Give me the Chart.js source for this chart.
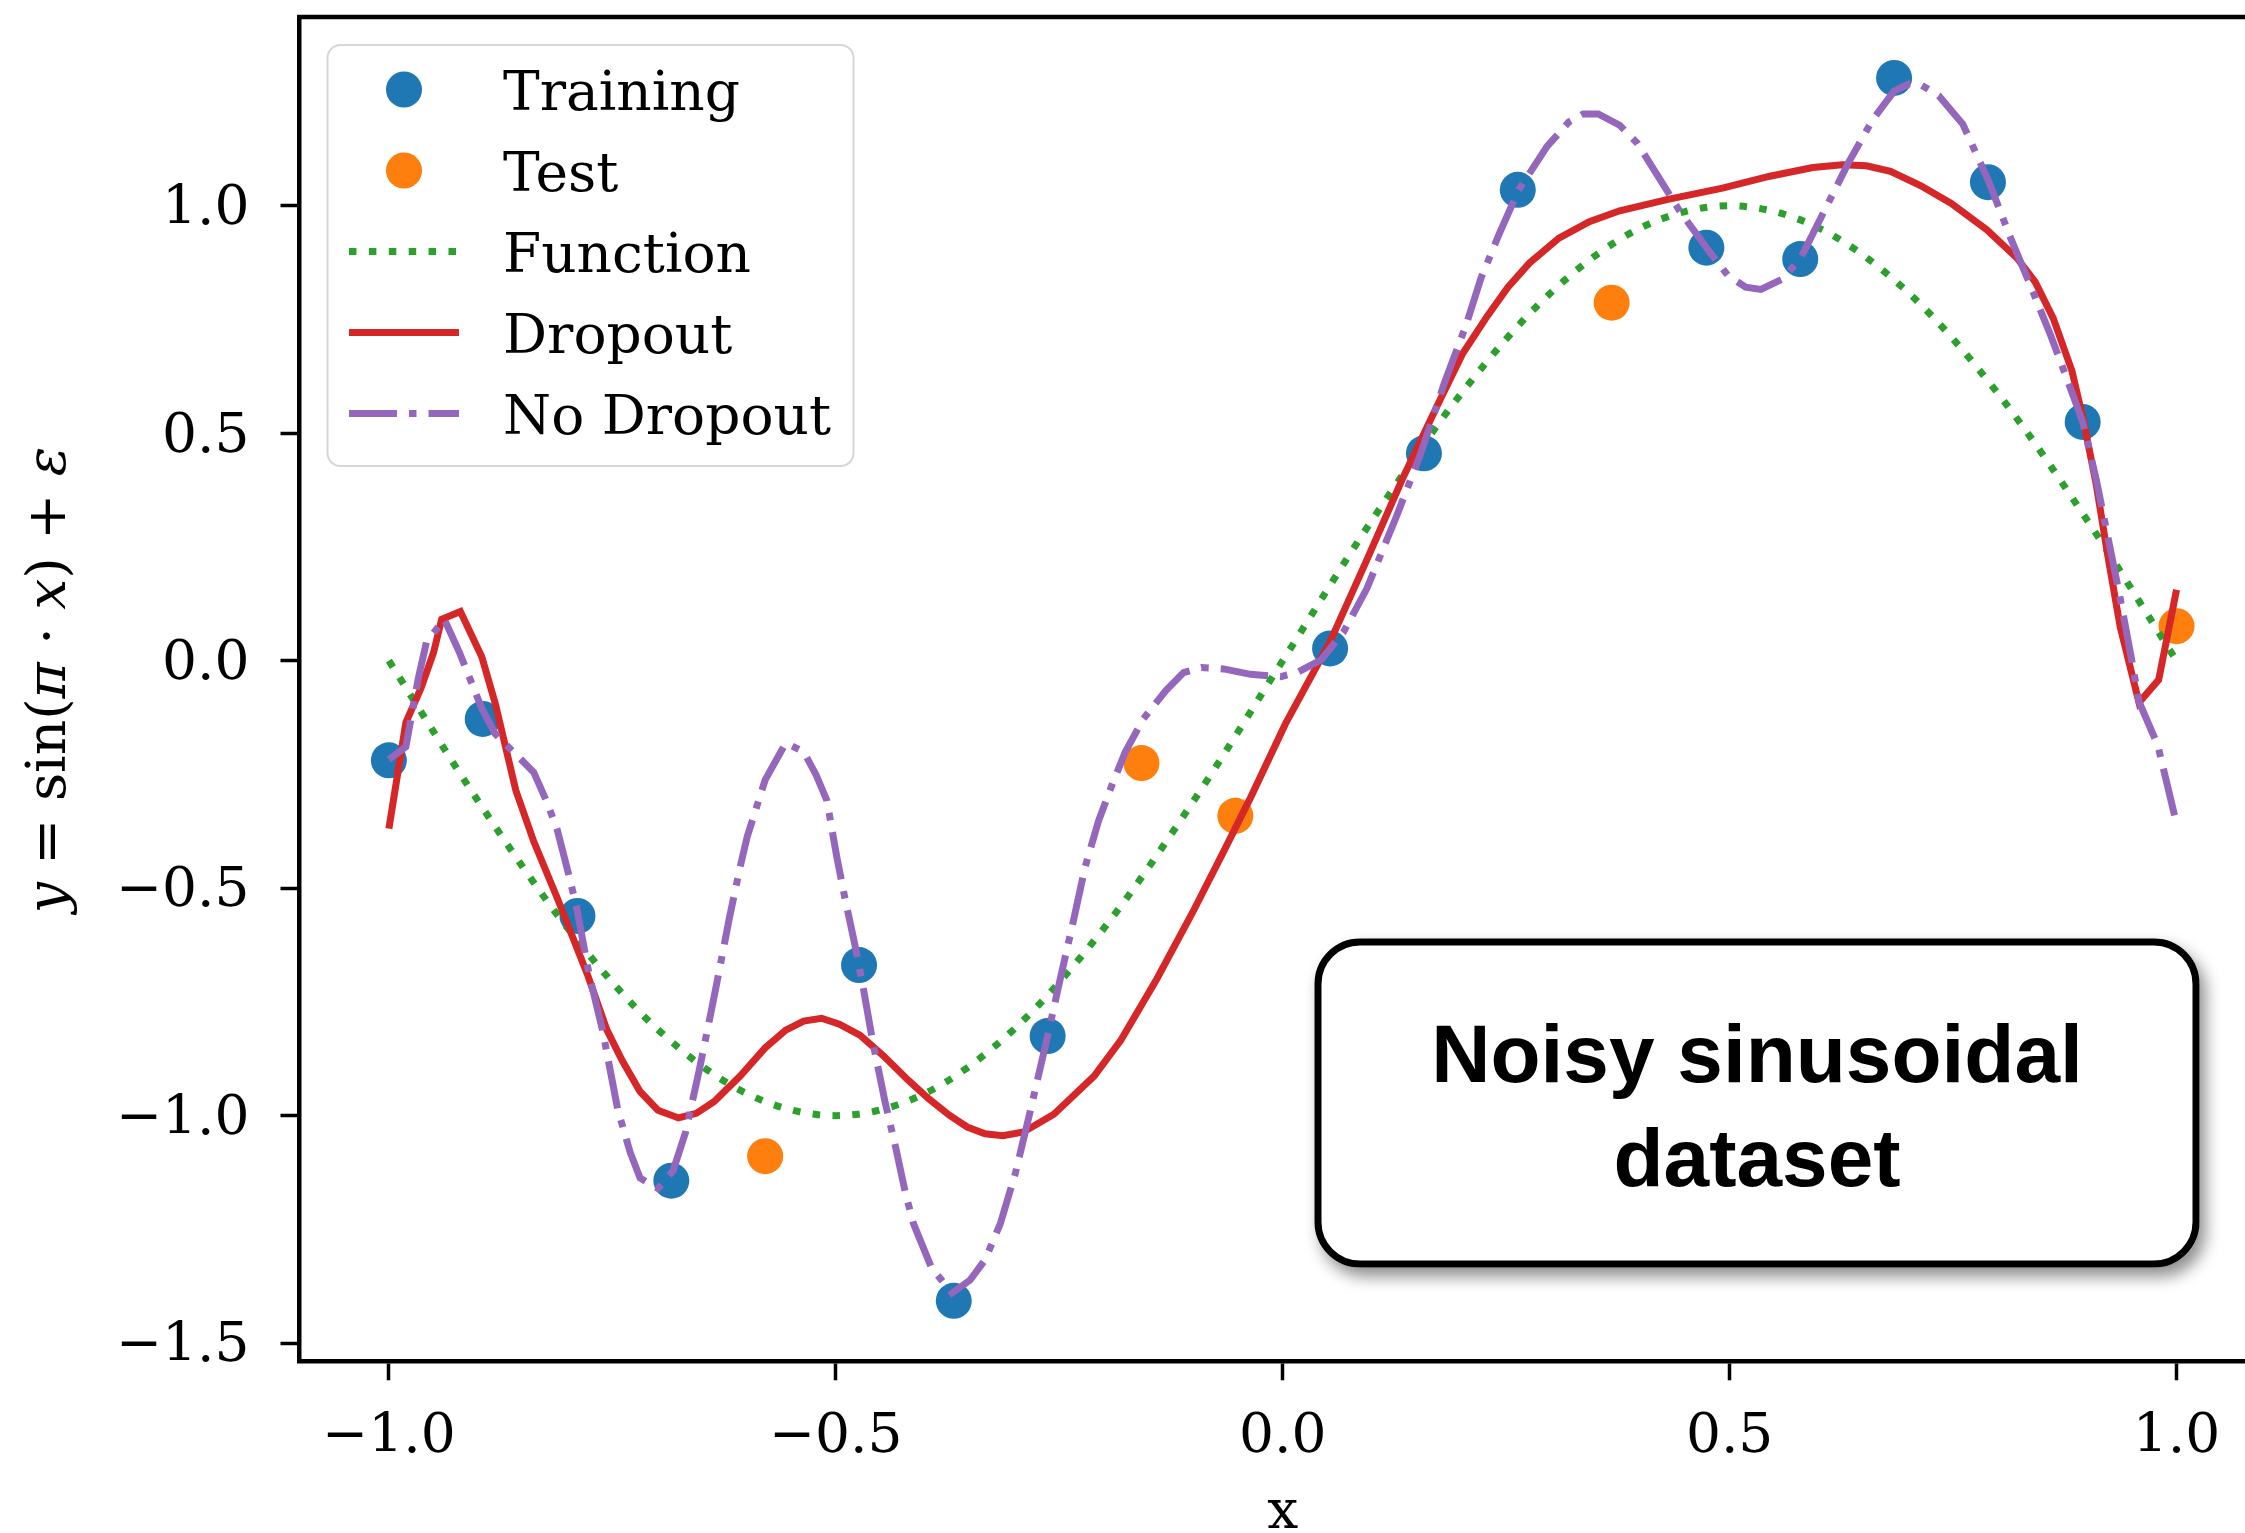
<!DOCTYPE html>
<html>
<head>
<meta charset="utf-8">
<title>Noisy sinusoidal dataset</title>
<script src="https://cdn.jsdelivr.net/npm/chart.js@4.4.1/dist/chart.umd.min.js"></script>
<style>
  html, body { margin: 0; padding: 0; background: #fff; overflow: hidden; }
  canvas { display: block; }
</style>
</head>
<body>
<canvas id="chart" width="2245" height="1533"></canvas>
<script>
// samples
let trainX = [-1.0, -0.895, -0.789, -0.684, -0.474, -0.368, -0.263, 0.053, 0.158, 0.263, 0.474, 0.579, 0.684, 0.789, 0.895];
let trainY = [-0.219, -0.128, -0.561, -1.143, -0.669, -1.407, -0.825, 0.027, 0.456, 1.035, 0.908, 0.883, 1.281, 1.052, 0.525];
let testX = [-0.579, -0.158, -0.053, 0.368, 1.0];
let testY = [-1.089, -0.225, -0.341, 0.787, 0.076];

// underlying function
let funcX = [-1.0, -0.9, -0.8, -0.7, -0.6, -0.5, -0.4, -0.3, -0.2, -0.1, 0.0, 0.1, 0.2, 0.3, 0.4, 0.5, 0.6, 0.7, 0.8, 0.9, 1.0];
let funcY = [0, -0.309, -0.588, -0.809, -0.951, -1.0, -0.951, -0.809, -0.588, -0.309, 0, 0.309, 0.588, 0.809, 0.951, 1.0, 0.951, 0.809, 0.588, 0.309, 0];

// model with dropout
let dropX = [-1.0, -0.981, -0.964, -0.95, -0.941, -0.92, -0.896, -0.881, -0.858, -0.838, -0.812, -0.778, -0.756, -0.739, -0.719, -0.699, -0.676, -0.656, -0.636, -0.607, -0.579, -0.556, -0.536, -0.516, -0.496, -0.473, -0.447, -0.419, -0.396, -0.373, -0.353, -0.333, -0.313, -0.29, -0.256, -0.211, -0.181, -0.141, -0.101, -0.066, -0.036, 0.003, 0.053, 0.094, 0.134, 0.175, 0.201, 0.229, 0.252, 0.276, 0.309, 0.343, 0.377, 0.431, 0.492, 0.545, 0.593, 0.626, 0.653, 0.68, 0.714, 0.748, 0.788, 0.822, 0.842, 0.862, 0.883, 0.896, 0.91, 0.923, 0.937, 0.958, 0.98, 1.0];
let dropY = [-0.369, -0.136, -0.06, 0.018, 0.091, 0.108, 0.008, -0.094, -0.285, -0.397, -0.52, -0.689, -0.812, -0.879, -0.947, -0.988, -1.005, -0.995, -0.969, -0.913, -0.851, -0.812, -0.792, -0.786, -0.799, -0.823, -0.868, -0.922, -0.963, -0.999, -1.025, -1.04, -1.044, -1.036, -0.997, -0.913, -0.834, -0.7, -0.554, -0.419, -0.301, -0.139, 0.042, 0.221, 0.4, 0.569, 0.674, 0.758, 0.821, 0.874, 0.929, 0.965, 0.989, 1.014, 1.039, 1.065, 1.084, 1.09, 1.088, 1.076, 1.044, 1.005, 0.947, 0.884, 0.832, 0.753, 0.637, 0.527, 0.389, 0.232, 0.074, -0.092, -0.042, 0.156];

// model without dropout
let noDropX = [-1.0, -0.981, -0.967, -0.958, -0.938, -0.921, -0.896, -0.881, -0.858, -0.838, -0.824, -0.812, -0.801, -0.79, -0.776, -0.761, -0.744, -0.73, -0.719, -0.699, -0.682, -0.668, -0.653, -0.639, -0.63, -0.619, -0.607, -0.599, -0.579, -0.556, -0.536, -0.522, -0.51, -0.499, -0.49, -0.479, -0.47, -0.459, -0.445, -0.433, -0.422, -0.413, -0.393, -0.37, -0.35, -0.333, -0.316, -0.299, -0.284, -0.263, -0.249, -0.236, -0.221, -0.206, -0.191, -0.176, -0.156, -0.131, -0.111, -0.091, -0.066, -0.036, -0.002, 0.018, 0.043, 0.068, 0.094, 0.127, 0.154, 0.181, 0.205, 0.222, 0.242, 0.264, 0.296, 0.32, 0.336, 0.353, 0.377, 0.397, 0.417, 0.444, 0.474, 0.498, 0.518, 0.535, 0.559, 0.579, 0.606, 0.633, 0.66, 0.684, 0.701, 0.714, 0.734, 0.761, 0.79, 0.815, 0.835, 0.859, 0.879, 0.895, 0.91, 0.923, 0.937, 0.95, 0.958, 0.979, 0.99, 1.0];
let noDropY = [-0.217, -0.189, -0.038, 0.041, 0.091, 0.018, -0.105, -0.161, -0.206, -0.245, -0.307, -0.369, -0.453, -0.542, -0.689, -0.812, -0.986, -1.081, -1.137, -1.16, -1.121, -1.036, -0.902, -0.767, -0.677, -0.565, -0.453, -0.386, -0.262, -0.181, -0.2, -0.251, -0.307, -0.43, -0.52, -0.621, -0.711, -0.834, -0.969, -1.07, -1.171, -1.238, -1.334, -1.39, -1.362, -1.317, -1.238, -1.126, -1.003, -0.825, -0.7, -0.588, -0.453, -0.352, -0.273, -0.2, -0.128, -0.066, -0.026, -0.015, -0.018, -0.03, -0.035, -0.024, 0.002, 0.063, 0.158, 0.316, 0.453, 0.611, 0.737, 0.842, 0.937, 1.035, 1.131, 1.184, 1.202, 1.202, 1.177, 1.137, 1.074, 0.989, 0.908, 0.847, 0.821, 0.816, 0.839, 0.883, 0.989, 1.095, 1.189, 1.252, 1.268, 1.266, 1.242, 1.179, 1.053, 0.926, 0.832, 0.716, 0.611, 0.525, 0.4, 0.274, 0.137, 0.0, -0.09, -0.186, -0.276, -0.358];

let xTicks = [-1.0, -0.5, 0.0, 0.5, 1.0];
let yTicks = [-1.5, -1.0, -0.5, 0.0, 0.5, 1.0];

const FONT = '"DejaVu Serif", serif';

function pairs(xs, ys) {
    return xs.map((x, i) => ({ x: x, y: ys[i] }));
}

function fmt(v) {
    return v.toFixed(1).replace("-", "\u2212");
}

function noPadding(s) {
    s.paddingTop = 0;
    s.paddingBottom = 0;
    s.paddingLeft = 0;
    s.paddingRight = 0;
}

function roundRect(ctx, x, y, w, h, r) {
    ctx.beginPath();
    ctx.moveTo(x + r, y);
    ctx.lineTo(x + w - r, y);
    ctx.arcTo(x + w, y, x + w, y + r, r);
    ctx.lineTo(x + w, y + h - r);
    ctx.arcTo(x + w, y + h, x + w - r, y + h, r);
    ctx.lineTo(x + r, y + h);
    ctx.arcTo(x, y + h, x, y + h - r, r);
    ctx.lineTo(x, y + r);
    ctx.arcTo(x, y, x + r, y, r);
    ctx.closePath();
}

// top spine, axis labels, legend and the text box
const decorations = {
    id: "decorations",
    afterDatasetsDraw(chart) {
        const ctx = chart.ctx;
        const area = chart.chartArea;
        const xs = chart.scales.x;
        ctx.save();

        // top spine
        ctx.strokeStyle = "#000";
        ctx.lineWidth = 4.5;
        ctx.beginPath();
        ctx.moveTo(area.left - 2.25, area.top);
        ctx.lineTo(area.right, area.top);
        ctx.stroke();

        // legend
        roundRect(ctx, 327.5, 45, 526, 421, 13);
        ctx.fillStyle = "rgba(255,255,255,0.8)";
        ctx.fill();
        ctx.strokeStyle = "#d6d6d6";
        ctx.lineWidth = 2;
        ctx.stroke();

        ctx.font = "55px " + FONT;
        ctx.textAlign = "left";
        ctx.textBaseline = "alphabetic";
        chart.data.datasets.forEach((ds, i) => {
            const cy = 89.5 + i * 81;
            if (ds.showLine) {
                ctx.save();
                ctx.strokeStyle = ds.borderColor;
                ctx.lineWidth = ds.borderWidth;
                ctx.setLineDash(ds.borderDash || []);
                ctx.beginPath();
                ctx.moveTo(349, cy);
                ctx.lineTo(459, cy);
                ctx.stroke();
                ctx.restore();
            } else {
                ctx.fillStyle = ds.backgroundColor;
                ctx.beginPath();
                ctx.arc(404, cy, ds.pointRadius, 0, Math.PI * 2);
                ctx.fill();
            }
            ctx.fillStyle = "#000";
            ctx.fillText(ds.label, 503, cy + 20);
        });

        // annotation box
        ctx.save();
        ctx.shadowColor = "rgba(0,0,0,0.45)";
        ctx.shadowBlur = 16;
        ctx.shadowOffsetX = 6;
        ctx.shadowOffsetY = 9;
        roundRect(ctx, 1314.5, 938.5, 885, 329, 45);
        ctx.fillStyle = "#fff";
        ctx.fill();
        ctx.restore();
        roundRect(ctx, 1318, 942, 878, 322, 42);
        ctx.strokeStyle = "#000";
        ctx.lineWidth = 7;
        ctx.stroke();
        ctx.fillStyle = "#000";
        ctx.font = 'bold 82px "Liberation Sans", Arial, sans-serif';
        ctx.textAlign = "center";
        ctx.fillText("Noisy sinusoidal", 1757, 1082);
        ctx.fillText("dataset", 1757, 1186);

        // x label
        ctx.font = "55px " + FONT;
        ctx.fillText("x", xs.getPixelForValue(0), 1528);

        // y label: y = sin(pi . x) + eps
        const parts = [["y", true], [" = sin(", false], ["\u03c0", true], [" \u00b7 ", false],
                       ["x", true], [") + ", false], ["\u03b5", true]];
        const fontOf = it => (it ? "italic " : "") + "55px " + FONT;
        let total = 0;
        parts.forEach(p => { ctx.font = fontOf(p[1]); total += ctx.measureText(p[0]).width; });
        ctx.translate(65, 680);
        ctx.rotate(-Math.PI / 2);
        ctx.textAlign = "left";
        let pos = -total / 2;
        parts.forEach(p => {
            ctx.font = fontOf(p[1]);
            ctx.fillText(p[0], pos, 0);
            pos += ctx.measureText(p[0]).width;
        });
        ctx.restore();
    }
};

const ctx = document.getElementById("chart").getContext("2d");

new Chart(ctx, {
    type: "scatter",
    data: {
        datasets: [
            { label: "Training", data: pairs(trainX, trainY), backgroundColor: "#1f77b4", borderWidth: 0,
              pointRadius: 18, showLine: false, order: 5 },
            { label: "Test", data: pairs(testX, testY), backgroundColor: "#ff7f0e", borderWidth: 0,
              pointRadius: 18, showLine: false, order: 4 },
            { label: "Function", data: pairs(funcX, funcY), borderColor: "#2ca02c", borderWidth: 7,
              borderDash: [7.5, 12.4], showLine: true, pointRadius: 0, cubicInterpolationMode: "monotone", order: 3 },
            { label: "Dropout", data: pairs(dropX, dropY), borderColor: "#d62728", borderWidth: 7,
              showLine: true, pointRadius: 0, tension: 0, order: 2 },
            { label: "No Dropout", data: pairs(noDropX, noDropY), borderColor: "#9467bd", borderWidth: 7,
              borderDash: [48, 12, 7.5, 12], showLine: true, pointRadius: 0, tension: 0, order: 1 }
        ]
    },
    options: {
        responsive: false,
        animation: false,
        events: [],
        layout: { autoPadding: false, padding: { top: 17, left: 0, right: 0, bottom: 0 } },
        plugins: {
            legend: { display: false },
            tooltip: { enabled: false }
        },
        scales: {
            x: {
                type: "linear",
                min: -1.1,
                max: 1.0766,
                afterBuildTicks: s => { s.ticks = xTicks.map(v => ({ value: v })); },
                afterFit: s => { s.height = 171.7; noPadding(s); },
                grid: { display: true, drawOnChartArea: false, drawTicks: true, tickLength: 19, tickWidth: 3.5, tickColor: "#000" },
                border: { display: true, color: "#000", width: 4.5 },
                ticks: { color: "#000", font: { family: FONT, size: 55 }, padding: 24, maxRotation: 0, autoSkip: false,
                         callback: v => fmt(v) }
            },
            y: {
                type: "linear",
                min: -1.540,
                max: 1.415,
                afterBuildTicks: s => { s.ticks = yTicks.map(v => ({ value: v })); },
                afterFit: s => { s.width = 299.5; noPadding(s); },
                grid: { display: true, drawOnChartArea: false, drawTicks: true, tickLength: 19, tickWidth: 3.5, tickColor: "#000" },
                border: { display: true, color: "#000", width: 4.5 },
                ticks: { color: "#000", font: { family: FONT, size: 55 }, padding: 31, labelOffset: 4, autoSkip: false,
                         callback: v => fmt(v) }
            }
        }
    },
    plugins: [decorations]
});
</script>
</body>
</html>
